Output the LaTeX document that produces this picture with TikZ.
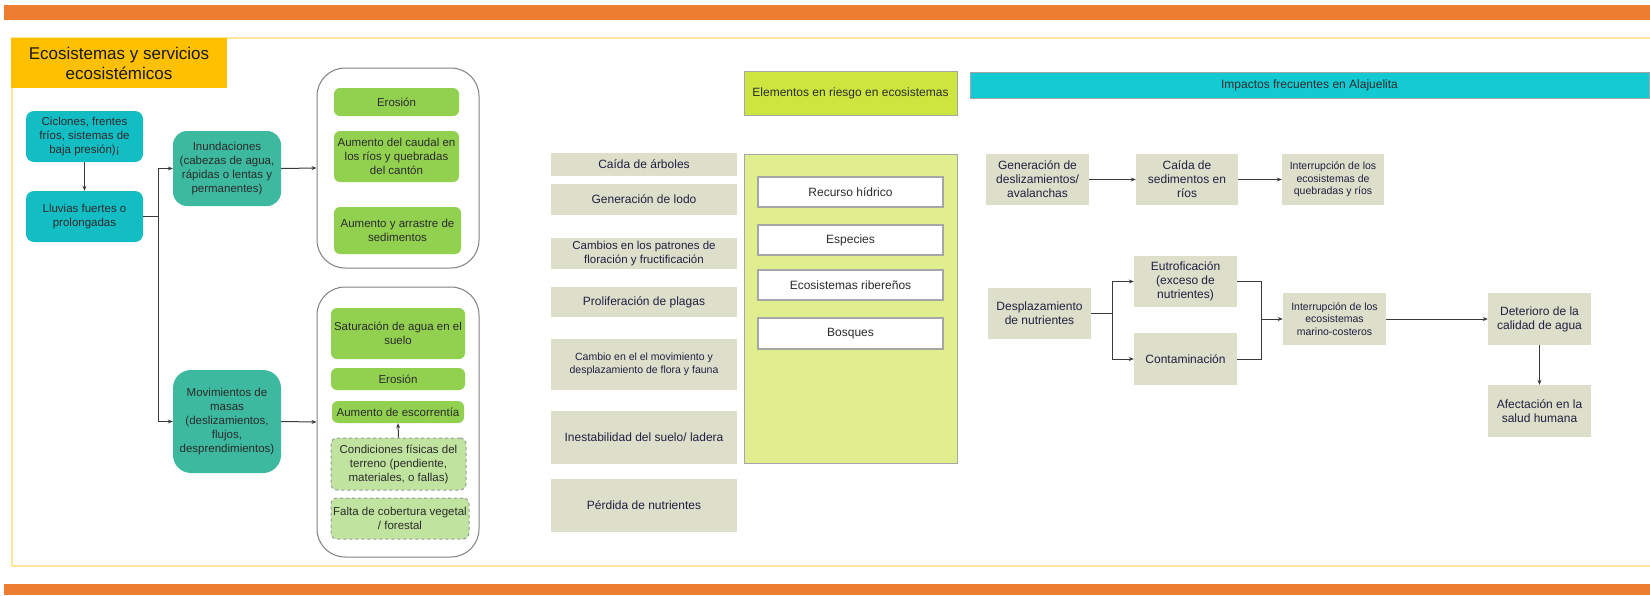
\documentclass[tikz,border=0pt]{standalone}
\usepackage{fontspec}
\setmainfont{Liberation Sans}
\usetikzlibrary{arrows.meta}
\definecolor{orangeband}{HTML}{ED7D31}
\definecolor{frameyel}{HTML}{FFE699}
\definecolor{titleyel}{HTML}{FFC000}
\definecolor{tealA}{HTML}{13BDC4}
\definecolor{tealB}{HTML}{3DB9A0}
\definecolor{greenA}{HTML}{92D050}
\definecolor{greenL}{HTML}{C0E4A0}
\definecolor{beige}{HTML}{DDDFCB}
\definecolor{limeH}{HTML}{CDE63F}
\definecolor{limeL}{HTML}{E1EE8F}
\definecolor{cyanH}{HTML}{14CAD2}
\definecolor{navytxt}{HTML}{202040}
\definecolor{darktxt}{HTML}{2B2B2B}
\definecolor{linec}{HTML}{3A3A3A}
\newcommand{\bx}[7]{%
  \pgfmathsetmacro\bxw{#5-#3}\pgfmathsetmacro\bxh{#6-#4}%
  \node[#2, minimum width=\bxw pt, minimum height=\bxh pt] (#1) at ({(#3+#5)/2},{-(#4+#6)/2}) {#7};}
\tikzset{
  base/.style={rectangle, inner sep=0pt, align=center, text=darktxt, font=\fontsize{11.5}{14}\selectfont},
  tealone/.style={base, fill=tealA, rounded corners=8pt},
  tealtwo/.style={base, fill=tealB, rounded corners=14pt},
  grp/.style={base, draw=black!50, line width=1pt, fill=white, rounded corners=28pt},
  grn/.style={base, fill=greenA, rounded corners=6pt},
  grnd/.style={base, fill=greenL, draw=black!40, dashed, line width=1pt, rounded corners=6pt},
  bge/.style={base, fill=beige, text=navytxt, font=\fontsize{12}{14}\selectfont},
  bgs/.style={bge, font=\fontsize{10.5}{12.5}\selectfont},
  limehead/.style={base, fill=limeH, draw=black!35, line width=1pt, font=\fontsize{12}{14}\selectfont},
  limebig/.style={base, fill=limeL, draw=black!35, line width=1pt},
  wbox/.style={base, fill=white, draw=black!35, line width=1.5pt, font=\fontsize{12}{14}\selectfont},
  cyanhead/.style={base, fill=cyanH, draw=black!35, line width=1pt, font=\fontsize{12}{14}\selectfont},
  conn/.style={draw=linec, line width=1pt},
  arr/.style={conn, -{Stealth[length=5pt,width=4pt]}}
}
\begin{document}
\begin{tikzpicture}[x=1pt,y=1pt]
\useasboundingbox (0,0) rectangle (1650,-595);
% bands and frame
\fill[orangeband] (4,-5) rectangle (1650,-20);
\fill[orangeband] (4,-584) rectangle (1650,-595);
\draw[frameyel, line width=2.5pt] (1652,-38) -- (12,-38) -- (12,-566) -- (1652,-566);
\bx{tit}{base, fill=titleyel, text=black!90, font=\fontsize{17}{20}\selectfont}{11}{38}{227}{88}{Ecosistemas y servicios\\ecosistémicos}
% left section
\bx{cic}{tealone}{26}{111}{143}{162}{Ciclones, frentes\\fríos, sistemas de\\baja presión)¡}
\bx{lluv}{tealone}{26}{191}{143}{242}{Lluvias fuertes o\\prolongadas}
\bx{inun}{tealtwo}{173}{131}{281}{206}{Inundaciones\\(cabezas de agua,\\rápidas o lentas y\\permanentes)}
\bx{movi}{tealtwo, rounded corners=18pt}{173}{370}{281}{473}{Movimientos de\\masas\\(deslizamientos,\\flujos,\\desprendimientos)}
\bx{g1}{grp}{317}{68}{479}{268}{}
\bx{g2}{grp}{317}{287}{479}{557}{}
\bx{ero1}{grn}{334}{88}{459}{116}{Erosión}
\bx{cau}{grn}{334}{131}{459}{182}{Aumento del caudal en\\los ríos y quebradas\\del cantón}
\bx{arrs}{grn}{334}{207}{461}{254}{Aumento y arrastre de\\sedimentos}
\bx{sat}{grn}{331}{308}{465}{359}{Saturación de agua en el\\suelo}
\bx{ero2}{grn}{331}{368}{465}{390}{Erosión}
\bx{esc}{grn}{332}{401}{464}{423}{Aumento de escorrentía}
\bx{con}{grnd}{331}{438}{466}{490}{Condiciones físicas del\\terreno (pendiente,\\materiales, o fallas)}
\bx{fal}{grnd}{331}{498}{469}{539}{Falta de cobertura vegetal\\/ forestal}
\coordinate (jL) at (158,-216.5);
\draw[arr] (cic.south) -- (lluv.north);
\draw[conn] (lluv.east) -- (jL);
\draw[arr] (jL) |- (inun.west);
\draw[arr] (jL) |- (movi.west);
\draw[arr] (inun.east) -- (g1.west);
\draw[arr] (movi.east) -- (g2.west);
\draw[arr] (con.north) -- (esc.south);
% middle section
\bx{b1}{bge}{551}{153}{737}{176}{Caída de árboles}
\bx{b2}{bge}{551}{184}{737}{215}{Generación de lodo}
\bx{b3}{bge, font=\fontsize{11.5}{13.5}\selectfont}{551}{238}{737}{269}{Cambios en los patrones de\\floración y fructificación}
\bx{b4}{bge}{551}{287}{737}{317}{Proliferación de plagas}
\bx{b5}{bgs}{551}{339}{737}{390}{Cambio en el el movimiento y\\desplazamiento de flora y fauna}
\bx{b6}{bge}{551}{411}{737}{464}{Inestabilidad del suelo/ ladera}
\bx{b7}{bge}{551}{479}{737}{532}{Pérdida de nutrientes}
\bx{elh}{limehead}{744}{71}{957}{115}{Elementos en riesgo en ecosistemas}
\bx{big}{limebig}{744}{154}{957}{463}{}
\bx{rh}{wbox}{758}{177}{943}{207}{Recurso hídrico}
\bx{esp}{wbox}{758}{225}{943}{255}{Especies}
\bx{eco}{wbox}{758}{270}{943}{300}{Ecosistemas ribereños}
\bx{bos}{wbox}{758}{318}{943}{349}{Bosques}
% right section
\bx{imh}{cyanhead}{970}{72}{1649}{98}{Impactos frecuentes en Alajuelita}
\bx{gd}{bge}{986}{154}{1089}{205}{Generación de\\deslizamientos/\\avalanchas}
\bx{cs}{bge}{1136}{154}{1238}{205}{Caída de\\sedimentos en\\ríos}
\bx{iq}{bgs}{1282}{154}{1384}{205}{Interrupción de los\\ecosistemas de\\quebradas y ríos}
\bx{dn}{bge}{988}{288}{1091}{339}{Desplazamiento\\de nutrientes}
\bx{eu}{bge}{1134}{256}{1237}{307}{Eutroficación\\(exceso de\\nutrientes)}
\bx{ct}{bge}{1134}{333}{1237}{385}{Contaminación}
\bx{im}{bgs}{1283}{293}{1386}{345}{Interrupción de los\\ecosistemas\\marino-costeros}
\bx{de}{bge}{1488}{293}{1591}{345}{Deterioro de la\\calidad de agua}
\bx{af}{bge}{1488}{385}{1591}{437}{Afectación en la\\salud humana}
\draw[arr] (gd.east) -- (cs.west);
\draw[arr] (cs.east) -- (iq.west);
\coordinate (jA) at (1112,-313.5);
\coordinate (jB) at (1261,-319);
\draw[conn] (dn.east) -- (jA);
\draw[arr] (jA) |- (eu.west);
\draw[arr] (jA) |- (ct.west);
\draw[conn] (eu.east) -| (jB);
\draw[conn] (ct.east) -| (jB);
\draw[arr] (jB) -- (im.west);
\draw[arr] (im.east) -- (de.west);
\draw[arr] (de.south) -- (af.north);
\end{tikzpicture}
\end{document}
